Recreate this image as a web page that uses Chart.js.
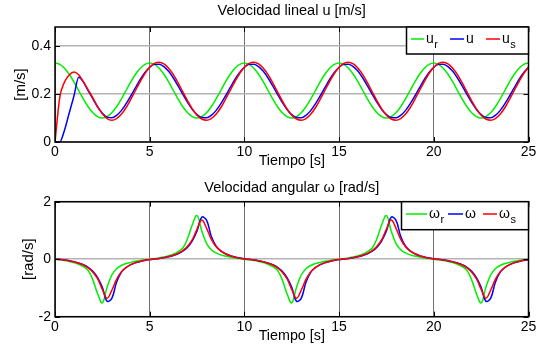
<!DOCTYPE html>
<html>
<head>
<meta charset="utf-8">
<script src="https://cdn.jsdelivr.net/npm/chart.js@4.4.1/dist/chart.umd.min.js"></script>
<style>
body{margin:0;background:#fff}
canvas{display:block}
</style>
</head>
<body>
<canvas id="topChart" width="551" height="175"></canvas>
<canvas id="botChart" width="551" height="180"></canvas>
<script>

/* DATA */

const time=[
0,0.25,0.5,0.75,1,1.25,1.5,1.75,2,2.25,2.5,2.75,3,3.25,3.5,3.75,4,4.25,4.5,4.75,
5,5.25,5.5,5.75,6,6.25,6.5,6.75,7,7.25,7.5,7.75,8,8.25,8.5,8.75,9,9.25,9.5,9.75,
10,10.25,10.5,10.75,11,11.25,11.5,11.75,12,12.25,12.5,12.75,13,13.25,13.5,13.75,14,14.25,14.5,14.75,
15,15.25,15.5,15.75,16,16.25,16.5,16.75,17,17.25,17.5,17.75,18,18.25,18.5,18.75,19,19.25,19.5,19.75,
20,20.25,20.5,20.75,21,21.25,21.5,21.75,22,22.25,22.5,22.75,23,23.25,23.5,23.75,24,24.25,24.5,24.75,
25]

// velocidad lineal
const uRef=[
0.330,0.324,0.308,0.283,0.251,0.215,0.179,0.147,0.122,0.106,0.100,0.106,0.122,0.147,0.179,0.215,0.251,0.283,0.308,0.324,
0.330,0.324,0.308,0.283,0.251,0.215,0.179,0.147,0.122,0.106,0.100,0.106,0.122,0.147,0.179,0.215,0.251,0.283,0.308,0.324,
0.330,0.324,0.308,0.283,0.251,0.215,0.179,0.147,0.122,0.106,0.100,0.106,0.122,0.147,0.179,0.215,0.251,0.283,0.308,0.324,
0.330,0.324,0.308,0.283,0.251,0.215,0.179,0.147,0.122,0.106,0.100,0.106,0.122,0.147,0.179,0.215,0.251,0.283,0.308,0.324,
0.330,0.324,0.308,0.283,0.251,0.215,0.179,0.147,0.122,0.106,0.100,0.106,0.122,0.147,0.179,0.215,0.251,0.283,0.308,0.324,
0.330]

const uReal=[
0,0,0.049,0.121,0.192,0.270,0.250,0.214,0.180,0.146,0.120,0.104,0.101,0.111,0.131,0.159,0.192,0.227,0.261,0.290,
0.312,0.324,0.325,0.315,0.295,0.267,0.234,0.199,0.165,0.136,0.114,0.102,0.101,0.111,0.131,0.159,0.192,0.227,0.261,0.290,
0.312,0.324,0.325,0.315,0.295,0.267,0.234,0.199,0.165,0.136,0.114,0.102,0.101,0.111,0.131,0.159,0.192,0.227,0.261,0.290,
0.312,0.324,0.325,0.315,0.295,0.267,0.234,0.199,0.165,0.136,0.114,0.102,0.101,0.111,0.131,0.159,0.192,0.227,0.261,0.290,
0.312,0.324,0.325,0.315,0.295,0.267,0.234,0.199,0.165,0.136,0.114,0.102,0.101,0.111,0.131,0.159,0.192,0.227,0.261,0.290,
0.312]

const uSim=[
0,0.185,0.250,0.280,0.292,0.281,0.252,0.218,0.184,0.148,0.118,0.098,0.091,0.098,0.116,0.143,0.178,0.215,0.252,0.286,
0.312,0.328,0.333,0.326,0.308,0.281,0.247,0.209,0.172,0.138,0.112,0.096,0.091,0.098,0.116,0.143,0.178,0.215,0.252,0.286,
0.312,0.328,0.333,0.326,0.308,0.281,0.247,0.209,0.172,0.138,0.112,0.096,0.091,0.098,0.116,0.143,0.178,0.215,0.252,0.286,
0.312,0.328,0.333,0.326,0.308,0.281,0.247,0.209,0.172,0.138,0.112,0.096,0.091,0.098,0.116,0.143,0.178,0.215,0.252,0.286,
0.312,0.328,0.333,0.326,0.308,0.281,0.247,0.209,0.172,0.138,0.112,0.096,0.091,0.098,0.116,0.143,0.178,0.215,0.252,0.286,
0.312]

// velocidad angular
const wRef=[
0,-0.020,-0.045,-0.080,-0.120,-0.175,-0.260,-0.390,-0.720,-1.200,-1.520,-0.980,-0.550,-0.330,-0.220,-0.150,-0.110,-0.075,-0.045,-0.020,
0,0.020,0.045,0.080,0.120,0.175,0.260,0.390,0.720,1.200,1.520,0.980,0.550,0.330,0.220,0.150,0.110,0.075,0.045,0.020,
0,-0.020,-0.045,-0.080,-0.120,-0.175,-0.260,-0.390,-0.720,-1.200,-1.520,-0.980,-0.550,-0.330,-0.220,-0.150,-0.110,-0.075,-0.045,-0.020,
0,0.020,0.045,0.080,0.120,0.175,0.260,0.390,0.720,1.200,1.520,0.980,0.550,0.330,0.220,0.150,0.110,0.075,0.045,0.020,
0,-0.020,-0.045,-0.080,-0.120,-0.175,-0.260,-0.390,-0.720,-1.200,-1.520,-0.980,-0.550,-0.330,-0.220,-0.150,-0.110,-0.075,-0.045,-0.020,
0]

const wReal=[
0,-0.005,-0.025,-0.050,-0.085,-0.130,-0.190,-0.280,-0.420,-0.640,-0.980,-1.460,-1.360,-0.800,-0.460,-0.290,-0.190,-0.125,-0.080,-0.045,
-0.015,0.005,0.025,0.050,0.085,0.130,0.190,0.280,0.420,0.640,0.980,1.460,1.360,0.800,0.460,0.290,0.190,0.125,0.080,0.045,
0.015,-0.005,-0.025,-0.050,-0.085,-0.130,-0.190,-0.280,-0.420,-0.640,-0.980,-1.460,-1.360,-0.800,-0.460,-0.290,-0.190,-0.125,-0.080,-0.045,
-0.015,0.005,0.025,0.050,0.085,0.130,0.190,0.280,0.420,0.640,0.980,1.460,1.360,0.800,0.460,0.290,0.190,0.125,0.080,0.045,
0.015,-0.005,-0.025,-0.050,-0.085,-0.130,-0.190,-0.280,-0.420,-0.640,-0.980,-1.460,-1.360,-0.800,-0.460,-0.290,-0.190,-0.125,-0.080,-0.045,
-0.015]

const wSim=[
0,-0.008,-0.028,-0.055,-0.090,-0.140,-0.205,-0.300,-0.450,-0.680,-1.050,-1.360,-1.080,-0.700,-0.440,-0.290,-0.190,-0.120,-0.075,-0.035,
-0.010,0.008,0.028,0.055,0.090,0.140,0.205,0.300,0.450,0.680,1.050,1.360,1.080,0.700,0.440,0.290,0.190,0.120,0.075,0.035,
0.010,-0.008,-0.028,-0.055,-0.090,-0.140,-0.205,-0.300,-0.450,-0.680,-1.050,-1.360,-1.080,-0.700,-0.440,-0.290,-0.190,-0.120,-0.075,-0.035,
-0.010,0.008,0.028,0.055,0.090,0.140,0.205,0.300,0.450,0.680,1.050,1.360,1.080,0.700,0.440,0.290,0.190,0.120,0.075,0.035,
0.010,-0.008,-0.028,-0.055,-0.090,-0.140,-0.205,-0.300,-0.450,-0.680,-1.050,-1.360,-1.080,-0.700,-0.440,-0.290,-0.190,-0.120,-0.075,-0.035,
-0.010]

const xTicks=[0,5,10,15,20,25]
const uTicks=[0,0.2,0.4]
const wTicks=[-2,0,2]

const uNames=["u","u","u"]
const uSubs=["r","","s"]
const wNames=["\u03c9","\u03c9","\u03c9"]
const wSubs=["r","","s"]

const colors=["#00ee00","#0000ff","#ff0000"]

const FONT="'Liberation Sans', Arial, sans-serif"

Chart.defaults.font.family=FONT
Chart.defaults.font.size=14
Chart.defaults.color="#000"


/* PLUGINS */

// box + inward ticks
const frame={
id:"frame",
afterDatasetsDraw(chart){
const {ctx,chartArea:a,scales:{x,y}}=chart
ctx.save()
ctx.strokeStyle="#000"
ctx.lineWidth=1
ctx.beginPath()
x.ticks.forEach(t=>{
const px=Math.round(x.getPixelForValue(t.value))+0.5
ctx.moveTo(px,a.bottom);ctx.lineTo(px,a.bottom-5)
ctx.moveTo(px,a.top);ctx.lineTo(px,a.top+5)
})
y.ticks.forEach(t=>{
const py=Math.round(y.getPixelForValue(t.value))+0.5
ctx.moveTo(a.left,py);ctx.lineTo(a.left+5,py)
ctx.moveTo(a.right,py);ctx.lineTo(a.right-5,py)
})
ctx.stroke()
ctx.lineWidth=1.5
ctx.strokeRect(a.left,a.top,a.right-a.left,a.bottom-a.top)
ctx.restore()
}
}

// title centred on the plot area
const plotTitle={
id:"plotTitle",
afterDraw(chart,args,opts){
const {ctx,chartArea:a}=chart
ctx.save()
ctx.fillStyle="#000"
ctx.font="14.5px "+FONT
ctx.textAlign="center"
ctx.textBaseline="middle"
ctx.fillText(opts.text,(a.left+a.right)/2,opts.y)
ctx.restore()
}
}

// matlab style legend box in the upper right corner
const boxLegend={
id:"boxLegend",
afterDraw(chart,args,opts){
const {ctx,chartArea:a}=chart
const left=Math.round(a.right-opts.width)+0.5
const top=a.top
ctx.save()
ctx.fillStyle="#fff"
ctx.fillRect(left,top,opts.width,opts.height)
ctx.strokeStyle="#000"
ctx.lineWidth=1.5
ctx.strokeRect(left,top,a.right-left,opts.height)
chart.data.datasets.forEach((ds,i)=>{
const it=opts.items[i]
ctx.strokeStyle=ds.borderColor
ctx.lineWidth=1.5
ctx.beginPath()
ctx.moveTo(left+it.x0,top+opts.lineY)
ctx.lineTo(left+it.x1,top+opts.lineY)
ctx.stroke()
ctx.fillStyle="#000"
ctx.textBaseline="middle"
ctx.textAlign="left"
ctx.font="14px "+FONT
ctx.fillText(opts.names[i],left+it.tx,top+opts.textY)
const w=ctx.measureText(opts.names[i]).width
if(opts.subs[i]){
ctx.font="11px "+FONT
ctx.fillText(opts.subs[i],left+it.tx+w+0.5,top+opts.textY+5.5)
}
})
ctx.restore()
}
}


/* CHARTS */

function series(ys){
return time.map((t,i)=>({x:t,y:ys[i]}))
}

function makeChart(id,cfg){

const datasets=cfg.values.map((v,i)=>({
label:cfg.names[i]+cfg.subs[i],
data:series(v),
borderColor:colors[i],
borderWidth:1.5,
pointRadius:0,
tension:cfg.tension,
cubicInterpolationMode:cfg.mode,
order:3-i
}))

return new Chart(document.getElementById(id),{
type:"line",
data:{datasets:datasets},
options:{
responsive:false,
animation:false,
devicePixelRatio:1,
layout:{padding:{top:cfg.plotTop,right:22.5,left:0,bottom:0}},
plugins:{
legend:{display:false},
tooltip:{enabled:false},
plotTitle:{text:cfg.title,y:cfg.titleY},
boxLegend:cfg.legend
},
scales:{
x:{
type:"linear",min:0,max:25,
afterBuildTicks:s=>{s.ticks=xTicks.map(v=>({value:v}))},
afterFit:s=>{s.height=cfg.xHeight},
grid:{color:"#707070",lineWidth:1,drawTicks:false},
border:{display:false},
ticks:{padding:2,maxRotation:0,autoSkip:false},
title:{display:true,text:"Tiempo [s]",font:{size:14.3},padding:{top:0,bottom:cfg.xTitlePad}}
},
y:{
min:cfg.yMin,max:cfg.yMax,
afterBuildTicks:s=>{s.ticks=cfg.yTicks.map(v=>({value:v}))},
afterFit:s=>{s.width=55},
grid:{color:"#b4b4b4",lineWidth:1.5,drawTicks:false},
border:{display:false},
ticks:{padding:4},
title:{display:true,text:cfg.yTitle,font:{size:15},padding:{top:cfg.yTitlePad,bottom:0}}
}
}
},
plugins:[frame,boxLegend,plotTitle]
})

}

makeChart("topChart",{
values:[uRef,uReal,uSim],
names:uNames,subs:uSubs,
title:"Velocidad lineal u [m/s]",titleY:11,
plotTop:27,xHeight:33,xTitlePad:5.6,
yMin:0,yMax:0.48,yTicks:uTicks,
yTitle:"[m/s]",yTitlePad:12,
tension:0.4,mode:"monotone",
legend:{width:123,height:27,lineY:12,textY:12.5,names:uNames,subs:uSubs,
items:[{x0:4.5,x1:17.5,tx:19.5},{x0:43.5,x1:57.5,tx:59.5},{x0:79.5,x1:93.5,tx:95.5}]}
})

makeChart("botChart",{
values:[wRef,wReal,wSim],
names:wNames,subs:wSubs,
title:"Velocidad angular \u03c9 [rad/s]",titleY:13.3,
plotTop:26.7,xHeight:38.3,xTitlePad:10.6,
yMin:-2,yMax:2,yTicks:wTicks,
yTitle:"[rad/s]",yTitlePad:20,
tension:0.4,mode:"default",
legend:{width:128,height:28,lineY:12.3,textY:12.3,names:wNames,subs:wSubs,
items:[{x0:4.5,x1:25.5,tx:27.5},{x0:46.5,x1:61.5,tx:63.5},{x0:81.5,x1:95.5,tx:97.5}]}
})

</script>
</body>
</html>
